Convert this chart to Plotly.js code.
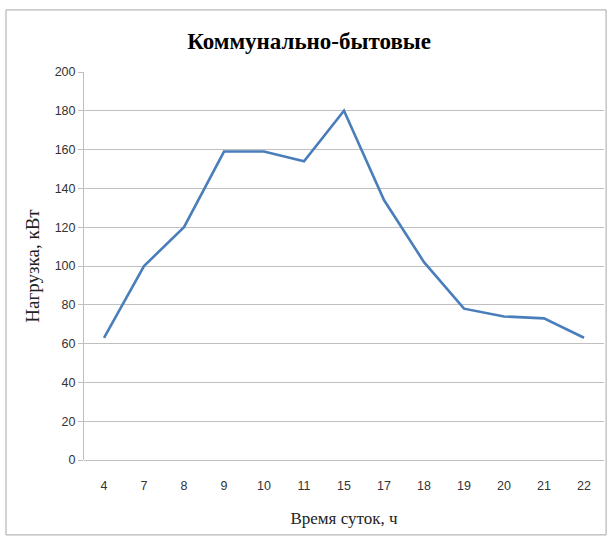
<!DOCTYPE html>
<html>
<head>
<meta charset="utf-8">
<script src="https://cdn.plot.ly/plotly-3.0.1.min.js"></script>
<style>
  html, body { margin: 0; padding: 0; background: #fff; }
  #chart { width: 612px; height: 540px; }
</style>
</head>
<body>
<div id="chart"></div>
<script>
// Hour of day (category labels) and load, kW
const hours = ['4', '7', '8', '9', '10', '11', '15', '17', '18', '19', '20', '21', '22'];
const loadKw = [63, 100, 120, 159, 159, 154, 180, 134, 102, 78, 74, 73, 63];
const yTicks = [0, 20, 40, 60, 80, 100, 120, 140, 160, 180, 200];

const tickFont = { family: 'Liberation Sans Narrow, Arial Narrow, Liberation Sans, sans-serif', size: 12.5, color: '#333' };
const serif = 'Liberation Serif, Times New Roman, serif';

const trace = {
  x: hours,
  y: loadKw,
  type: 'scatter',
  mode: 'lines',
  line: { color: '#4A7EBB', width: 2.6 },
  hoverinfo: 'x+y'
};

const layout = {
  width: 612,
  height: 540,
  margin: { l: 84, r: 8, t: 72, b: 80 },
  paper_bgcolor: '#ffffff',
  plot_bgcolor: '#ffffff',
  showlegend: false,
  title: {
    text: '<b>Коммунально-бытовые</b>',
    font: { family: serif, size: 23, color: '#000' },
    x: 0.505, xanchor: 'center',
    y: 0.925, yanchor: 'middle'
  },
  xaxis: {
    type: 'category',
    range: [-0.5, hours.length - 0.5],
    showgrid: false,
    showline: false,
    ticks: '',
    tickfont: tickFont,
    ticklabelstandoff: 16,
    title: { text: 'Время суток, ч', font: { family: serif, size: 17, color: '#222' }, standoff: 20 },
    automargin: false
  },
  yaxis: {
    range: [0, 200],
    tickvals: yTicks,
    showgrid: true,
    gridcolor: '#bfbfbf',
    gridwidth: 1,
    showline: true,
    linecolor: '#bfbfbf',
    linewidth: 1,
    ticks: 'outside',
    ticklen: 5,
    tickcolor: '#bfbfbf',
    tickfont: tickFont,
    zeroline: true,
    zerolinecolor: '#bfbfbf',
    title: { text: 'Нагрузка, кВт', font: { family: serif, size: 19, color: '#222' }, standoff: 9 },
    automargin: false
  },
  shapes: [
    {
      type: 'rect', xref: 'paper', yref: 'paper',
      x0: -0.15, x1: 1.004, y0: -0.193, y1: 1.16,
      line: { color: '#a6a6a6', width: 1 },
      fillcolor: 'rgba(0,0,0,0)'
    }
  ]
};

Plotly.newPlot('chart', [trace], layout, { displayModeBar: false, staticPlot: true });
</script>
</body>
</html>
